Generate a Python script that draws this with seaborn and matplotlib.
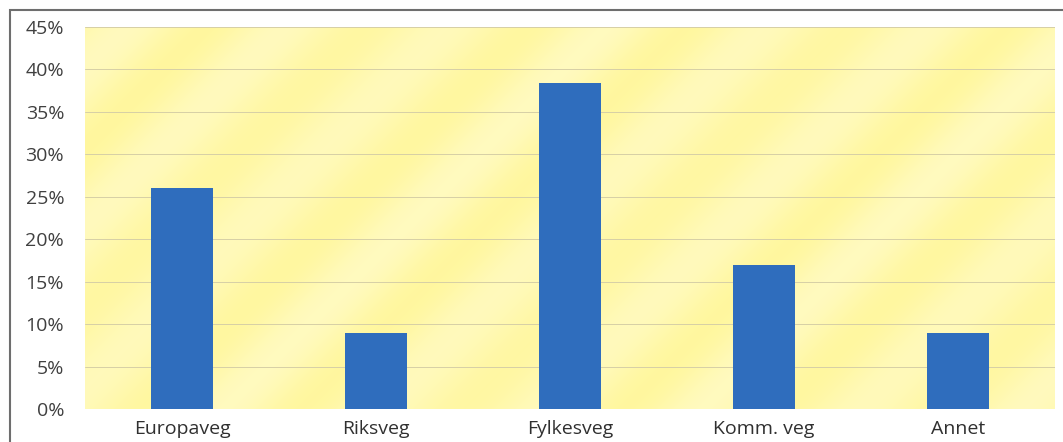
import numpy as np
import pandas as pd
import matplotlib
matplotlib.use("Agg")
import matplotlib.pyplot as plt
from matplotlib.patches import Rectangle
from matplotlib.ticker import FuncFormatter
import seaborn as sns

categories = ["Europaveg", "Riksveg", "Fylkesveg", "Komm. veg", "Annet"]
shares = [26.0, 9.0, 38.4, 17.0, 9.0]
y_ticks = [0, 5, 10, 15, 20, 25, 30, 35, 40, 45]

df = pd.DataFrame({"veg": categories, "andel": shares})

sns.set_theme(style="white")
plt.rcParams["font.family"] = ["Open Sans", "DejaVu Sans"]

W, H, DPI = 1063, 442, 100
fig = plt.figure(figsize=(W / DPI, H / DPI), dpi=DPI)
fig.patch.set_facecolor("white")

# plot area in pixel coordinates
left, right, top, bottom = 85, 1055, 27, 409
ax = fig.add_axes([left / W, 1 - bottom / H, (right - left) / W, (bottom - top) / H])

# soft diagonal yellow stripes behind the bars, rising to the right
nx, ny = 970, 382
xx, yy = np.meshgrid(np.arange(nx), np.arange(ny))
phase = (xx + yy) / 160.0 * 2 * np.pi
band = 0.5 + 0.5 * np.sin(phase) * (0.85 + 0.15 * np.sin(phase / 2.7))
base = np.array([1.0, 0.968, 0.62])
light = np.array([1.0, 0.985, 0.79])
w = band[..., None] * 0.75
img = base[None, None, :] * (1 - w) + light[None, None, :] * w
ax.imshow(img, extent=[-0.5, 4.5, 0, 45], aspect="auto", zorder=0, interpolation="bilinear")

sns.barplot(data=df, x="veg", y="andel", color="#2F6DBD", width=0.315,
            saturation=1, linewidth=0, ax=ax, zorder=3)

ax.set_xlim(-0.5, 4.5)
ax.set_ylim(0, 45)
ax.set_yticks(y_ticks)
ax.yaxis.set_major_formatter(FuncFormatter(lambda v, p: f"{int(v)}%"))
ax.grid(axis="y", color="#D6CFA6", linewidth=0.7, zorder=1)
ax.set_axisbelow(False)
for s in ax.spines.values():
    s.set_visible(False)
ax.set_xlabel("")
ax.set_ylabel("")
ax.tick_params(axis="y", length=0, pad=15, labelsize=14, labelcolor="#404040")
ax.tick_params(axis="x", length=0, pad=8, labelsize=14, labelcolor="#303030")

# outer frame of the chart
fig.patches.append(Rectangle((10 / W, -0.1), (W + 20) / W, 1.1 - 10 / H,
                             transform=fig.transFigure, fill=False,
                             edgecolor="#6E6E6E", linewidth=1.5))

fig.savefig("out.png", dpi=DPI)
